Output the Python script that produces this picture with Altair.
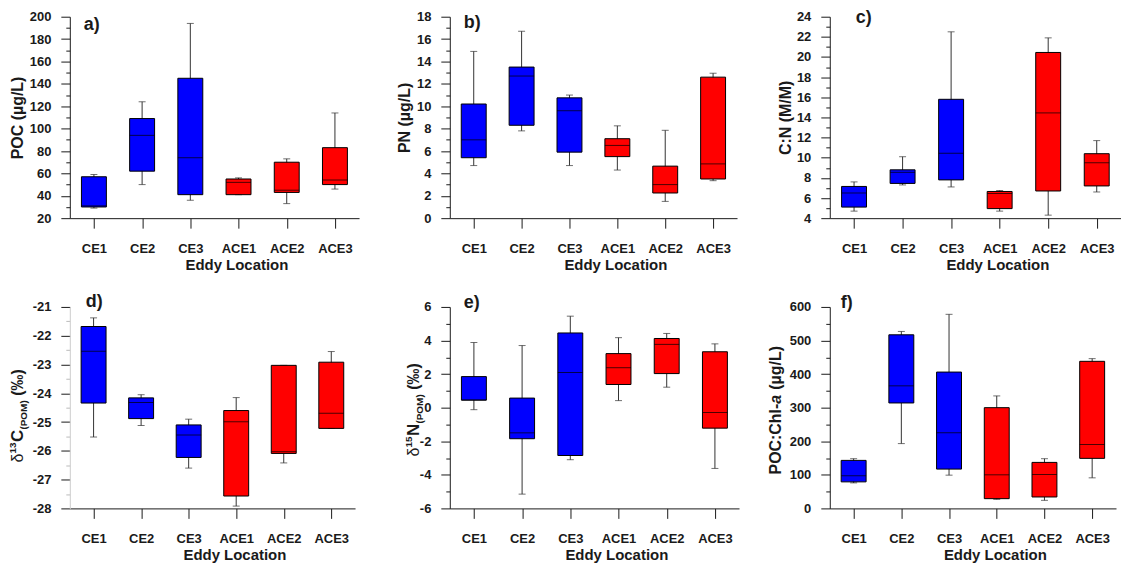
import altair as alt
import pandas as pd

FONT = "Liberation Sans"
BLUE = "#0000ff"
RED = "#ff0000"
INK = "#1a1a1a"

locations = ["CE1", "CE2", "CE3", "ACE1", "ACE2", "ACE3"]
eddy_type = ["CE", "CE", "CE", "ACE", "ACE", "ACE"]

# Box summaries per variable: whisker low, Q1, median, Q3, whisker high
poc_low = [29, 50, 36, 41, 33, 46]
poc_q1 = [30, 62, 41, 41, 43, 50]
poc_med = [31, 94, 74, 52, 45, 54]
poc_q3 = [57, 109, 145, 55, 70, 83]
poc_high = [59, 124, 194, 56, 73, 114]

pn_low = [4.7, 7.8, 4.7, 4.3, 1.5, 3.35]
pn_q1 = [5.4, 8.3, 5.9, 5.5, 2.25, 3.5]
pn_med = [7.0, 12.7, 9.6, 6.5, 3.0, 4.85]
pn_q3 = [10.2, 13.5, 10.75, 7.1, 4.65, 12.6]
pn_high = [14.9, 16.7, 11.0, 8.25, 7.85, 12.95]

cn_low = [4.7, 7.3, 7.1, 4.7, 4.3, 6.6]
cn_q1 = [5.1, 7.45, 7.8, 4.95, 6.7, 7.2]
cn_med = [6.5, 8.55, 10.45, 6.45, 14.45, 9.5]
cn_q3 = [7.15, 8.8, 15.8, 6.65, 20.45, 10.4]
cn_high = [7.6, 10.1, 22.5, 6.75, 21.9, 11.7]

d13c_low = [-25.52, -25.12, -26.6, -27.92, -26.42, -25.22]
d13c_q1 = [-24.34, -24.88, -26.23, -27.57, -26.09, -25.22]
d13c_med = [-22.54, -24.32, -25.45, -24.99, -26.03, -24.69]
d13c_q3 = [-21.68, -24.16, -25.1, -24.6, -23.03, -22.92]
d13c_high = [-21.38, -24.05, -24.9, -24.15, -23.03, -22.55]

d15n_low = [-0.12, -5.15, -3.1, 0.42, 1.22, -3.62]
d15n_q1 = [0.45, -1.85, -2.85, 1.38, 2.03, -1.22]
d15n_med = [0.45, -1.5, 2.1, 2.38, 3.77, -0.29]
d15n_q3 = [1.85, 0.57, 4.45, 3.22, 4.12, 3.33]
d15n_high = [3.88, 3.7, 5.45, 4.17, 4.42, 3.8]

chl_low = [76, 193, 99, 27, 24, 91]
chl_q1 = [79, 314, 117, 29, 34, 149]
chl_med = [97, 365, 225, 100, 101, 190]
chl_q3 = [143, 517, 406, 300, 137, 438]
chl_high = [148, 527, 578, 335, 148, 446]


def summary_frame(low, q1, med, q3, high):
    return pd.DataFrame({
        "loc": locations, "grp": eddy_type,
        "low": low, "q1": q1, "med": med, "q3": q3, "high": high,
    })


def text_layer(text, x, y, size, weight="bold", style="normal", angle=0,
               dx=0, dy=0, align="left", baseline="middle"):
    kw = {}
    if angle:
        kw["angle"] = angle
    return alt.Chart(pd.DataFrame({"t": [text]})).mark_text(
        font=FONT, fontSize=size, fontWeight=weight, fontStyle=style, color=INK,
        align=align, baseline=baseline, dx=dx, dy=dy, **kw
    ).encode(x=alt.value(x), y=alt.value(y), text="t:N")


def panel(df, width, domain, step, major, y_title, tag, tag_xy,
          title_x, title_pieces=None, light_axis=False):
    height = 202
    ticks = []
    v = domain[0]
    while v <= domain[1] + 1e-9:
        ticks.append(round(v, 6))
        v += step
    minor_test = (f"abs(datum.value/{major} - round(datum.value/{major})) > 0.001")
    y_axis = alt.Axis(
        values=ticks,
        tickCount=500,
        labelExpr=f"{minor_test} ? '' : toString(datum.value)",
        labelOverlap=False,
        tickSize={"condition": {"test": minor_test, "value": 4}, "value": 9},
        tickColor={"condition": {"test": minor_test,
                                 "value": "#bbbbbb" if light_axis else INK},
                   "value": INK},
        domainColor="#cccccc" if light_axis else INK,
        labelPadding=10,
        title=y_title if title_pieces is None else None,
        titleX=title_x, titleY=height / 2, titleAngle=270,
        titleAlign="center", titleBaseline="middle",
        titleFontSize=16,
    )
    x_axis = alt.Axis(
        title="Eddy Location", labelAngle=0, tickSize=10, labelPadding=14,
        labelOverlap=False,
        titleX=width / 2 + 22, titleY=46, titleBaseline="middle",
    )
    x = alt.X("loc:N", sort=locations,
              scale=alt.Scale(domain=locations, type="point", padding=0.5),
              axis=x_axis)
    yscale = alt.Scale(domain=domain, nice=False, zero=False)
    base = alt.Chart(df).encode(x=x)

    whisker = base.mark_rule(color="#333333", strokeWidth=1).encode(
        y=alt.Y("low:Q", scale=yscale, axis=y_axis), y2="high:Q")
    cap_low = base.mark_tick(color="#333333", size=7, thickness=1).encode(y="low:Q")
    cap_high = base.mark_tick(color="#333333", size=7, thickness=1).encode(y="high:Q")
    box = base.mark_bar(size=25, stroke="#000000", strokeWidth=1).encode(
        y="q1:Q", y2="q3:Q",
        color=alt.Color("grp:N", scale=alt.Scale(domain=["CE", "ACE"], range=[BLUE, RED]),
                        legend=None))
    median = base.mark_tick(color="#000000", size=25, thickness=1).encode(y="med:Q")

    layers = [whisker, cap_low, cap_high, box, median,
              text_layer(tag, tag_xy[0], tag_xy[1], 18)]
    if title_pieces is not None:
        bx, by, pieces = title_pieces
        for txt, size, weight, style, dx, dy in pieces:
            layers.append(text_layer(txt, bx, by, size, weight=weight, style=style,
                                     angle=270, dx=dx, dy=dy, baseline="alphabetic"))
    return alt.layer(*layers).properties(width=width, height=height)


def iso_title(sup, letter, base_x, base_y):
    # delta notation: superscript mass number, subscript (POM)
    return (base_x, base_y, [
        ("δ", 16, "normal", "normal", 0, 0),
        (sup, 10, "bold", "normal", 9, -7),
        (letter, 17, "bold", "normal", 20.5, 0),
        ("(POM)", 10, "bold", "normal", 33, 4),
        ("(‰)", 16, "bold", "normal", 67, 0),
    ])


# POC:Chl-a title with the italic "a"
chl_title = (-49, 168, [
    ("POC:Chl-", 16, "bold", "normal", 0, 0),
    ("a", 16, "bold", "italic", 71, 0),
    ("(µg/L)", 16, "bold", "normal", 85, 0),
])

pa = panel(summary_frame(poc_low, poc_q1, poc_med, poc_q3, poc_high), 290,
           [20, 200], 10, 20, "POC (µg/L)", "a)", (14, 8), -52)
pb = panel(summary_frame(pn_low, pn_q1, pn_med, pn_q3, pn_high), 288,
           [0, 18], 1, 2, "PN (µg/L)", "b)", (14, 6), -45)
pc = panel(summary_frame(cn_low, cn_q1, cn_med, cn_q3, cn_high), 292,
           [4, 24], 1, 2, "C:N (M/M)", "c)", (26, 1), -44)
pd_ = panel(summary_frame(d13c_low, d13c_q1, d13c_med, d13c_q3, d13c_high), 286,
            [-28, -21], 0.5, 1, "", "d)", (16, -5), -50,
            title_pieces=iso_title("13", "C", -47, 156), light_axis=True)
pe = panel(summary_frame(d15n_low, d15n_q1, d15n_med, d15n_q3, d15n_high), 290,
           [-6, 6], 1, 2, "", "e)", (14, -4), -50,
           title_pieces=iso_title("15", "N", -31, 150))
pf = panel(summary_frame(chl_low, chl_q1, chl_med, chl_q3, chl_high), 287,
           [0, 600], 50, 100, "", "f)", (11, -4), -55,
           title_pieces=chl_title)

chart = alt.concat(
    pa, pb, pc, pd_, pe, pf, columns=3,
    spacing={"row": 89, "column": 91}, bounds="flush",
).properties(
    padding={"left": 8, "top": 8, "right": 0, "bottom": 0}
).configure_view(stroke=None).configure_axis(
    labelFont=FONT, labelFontSize=13, labelFontWeight="bold", labelColor=INK,
    titleFont=FONT, titleFontSize=15, titleFontWeight="bold", titleColor=INK,
    domainColor=INK, tickColor=INK, grid=False,
).configure_axisX(titleFontSize=15)

chart.save("out.html", embed_options={"renderer": "svg", "actions": False})
